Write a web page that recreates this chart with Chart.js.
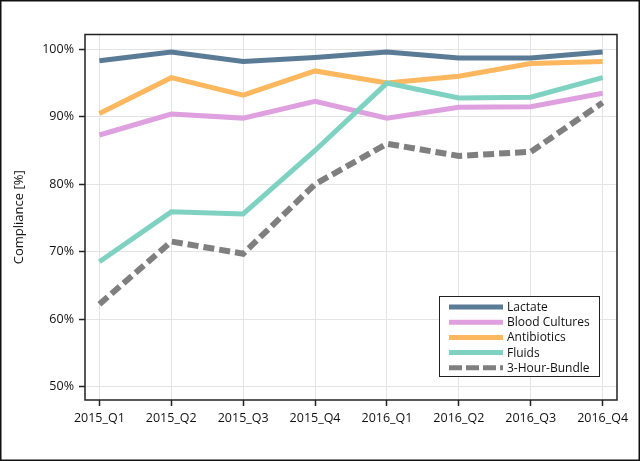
<!DOCTYPE html>
<html>
<head>
<meta charset="utf-8">
<script src="https://cdn.jsdelivr.net/npm/chart.js@4"></script>
<style>
html,body{margin:0;padding:0;background:#fff;}
canvas{display:block;}
</style>
</head>
<body>
<canvas id="c" width="640" height="461"></canvas>
<script>
const categories = ["2015_Q1","2015_Q2","2015_Q3","2015_Q4","2016_Q1","2016_Q2","2016_Q3","2016_Q4"];
const yTicks = [50, 60, 70, 80, 90, 100];
const lactate = [98.3, 99.6, 98.2, 98.8, 99.6, 98.7, 98.7, 99.6];
const bloodCultures = [87.3, 90.4, 89.8, 92.3, 89.8, 91.4, 91.5, 93.5];
const antibiotics = [90.5, 95.8, 93.2, 96.8, 95.0, 96.0, 97.9, 98.2];
const fluids = [68.5, 75.9, 75.6, 85.0, 95.0, 92.8, 92.9, 95.8];
const bundle = [62.2, 71.5, 69.7, 80.0, 86.0, 84.2, 84.8, 92.1];

const toXY = arr => arr.map((v, i) => ({x: i, y: v}));

const fontFam = "'Open Sans', 'DejaVu Sans', sans-serif";

const frame = {
  id: 'frame',
  afterDraw(chart) {
    const {ctx, chartArea: a} = chart;
    ctx.save();
    ctx.strokeStyle = '#222';
    ctx.lineWidth = 1.5;
    ctx.strokeRect(a.left, a.top, a.right - a.left, a.bottom - a.top);
    ctx.lineWidth = 1.5;
    ctx.strokeStyle = '#111';
    ctx.strokeRect(0.75, 0.75, chart.width - 1.5, chart.height - 1.5);
    const bx = a.right - 178, by = a.bottom - 104, bw = 160, bh = 80;
    ctx.fillStyle = '#fff';
    ctx.fillRect(bx, by, bw, bh);
    ctx.strokeStyle = '#222';
    ctx.lineWidth = 1;
    ctx.strokeRect(bx + 0.5, by + 0.5, bw, bh);
    ctx.font = "12px " + fontFam;
    ctx.textBaseline = 'middle';
    ctx.textAlign = 'left';
    chart.data.datasets.forEach((ds, i) => {
      const y = by + 11 + i * 15.2;
      ctx.beginPath();
      ctx.strokeStyle = ds.borderColor;
      ctx.lineWidth = 5;
      ctx.setLineDash(ds.borderDash ? [13, 4] : []);
      ctx.moveTo(bx + 10, y);
      ctx.lineTo(bx + 64, y);
      ctx.stroke();
      ctx.setLineDash([]);
      ctx.fillStyle = '#111';
      ctx.fillText(ds.label, bx + 68, y + 0.5);
    });
    ctx.restore();
  }
};

new Chart(document.getElementById('c'), {
  type: 'line',
  data: {
    datasets: [
      {label: 'Lactate', data: toXY(lactate), borderColor: '#5a7b96', borderWidth: 5, order: 4},
      {label: 'Blood Cultures', data: toXY(bloodCultures), borderColor: '#dea0de', borderWidth: 5, order: 3},
      {label: 'Antibiotics', data: toXY(antibiotics), borderColor: '#fdb75e', borderWidth: 5, order: 2},
      {label: 'Fluids', data: toXY(fluids), borderColor: '#7fd2c2', borderWidth: 5, order: 1},
      {label: '3-Hour-Bundle', data: toXY(bundle), borderColor: '#7f7f7f', borderWidth: 6, borderDash: [11, 5], order: 0}
    ]
  },
  options: {
    responsive: false,
    animation: false,
    layout: {padding: {left: 0, right: 23, top: 34.5, bottom: 31}},
    elements: {point: {radius: 0}, line: {tension: 0, fill: false}},
    plugins: {legend: {display: false}, tooltip: {enabled: false}},
    scales: {
      x: {
        type: 'linear',
        min: -0.2,
        max: 7.2,
        afterBuildTicks: s => { s.ticks = categories.map((c, i) => ({value: i})); },
        afterFit: s => { s.height = 30; },
        grid: {color: '#e4e4e4', lineWidth: 1, tickLength: 6, tickColor: '#222', tickWidth: 1.5},
        border: {display: false},
        ticks: {
          callback: v => categories[v],
          color: '#111',
          font: {family: fontFam, size: 12.5},
          padding: 4.5,
          maxRotation: 0
        }
      },
      y: {
        min: 48,
        max: 102.2,
        afterBuildTicks: s => { s.ticks = yTicks.map(v => ({value: v})); },
        afterFit: s => { s.width = 85; },
        grid: {color: '#e4e4e4', lineWidth: 1, tickLength: 6, tickColor: '#222', tickWidth: 1.5},
        border: {display: false},
        ticks: {
          callback: v => v + '%',
          color: '#111',
          font: {family: fontFam, size: 12.5},
          padding: 5
        },
        title: {
          display: true,
          text: 'Compliance [%]',
          color: '#111',
          font: {family: fontFam, size: 13},
          padding: {top: 11, bottom: 0}
        }
      }
    }
  },
  plugins: [frame]
});
</script>
</body>
</html>
